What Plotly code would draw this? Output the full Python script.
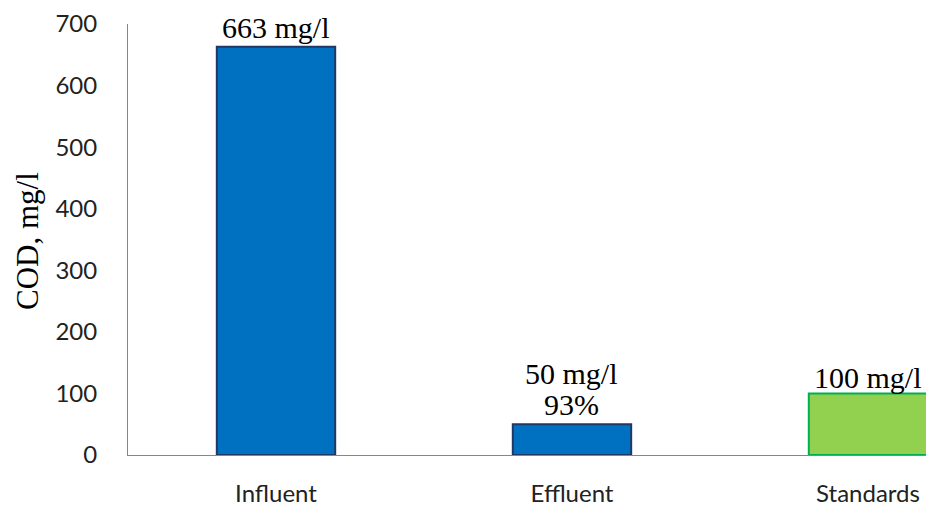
import plotly.graph_objects as go

# COD concentrations (mg/l)
categories = ["Influent", "Effluent", "Standards"]
cod_values = [663, 50, 100]
label_lines = [["663 mg/l"], ["50 mg/l", "93%"], ["100 mg/l"]]
y_ticks = [0, 100, 200, 300, 400, 500, 600, 700]

fill_colors = ["#0070C0", "#0070C0", "#92D050"]
line_colors = ["#1F3864", "#1F3864", "#00B050"]

fig = go.Figure()
fig.add_trace(go.Bar(
    x=categories,
    y=cod_values,
    width=0.4,
    marker=dict(color=fill_colors, line=dict(color=line_colors, width=2)),
    hoverinfo="skip",
    showlegend=False,
))

serif = "Liberation Serif, Times New Roman, serif"
sans = "Lato, Carlito, Calibri, sans-serif"
label_gap = [1, 1, -3]   # pixel offset of each label above its bar
line_step = 31           # pixel spacing between stacked label lines

for cat, val, lines, gap in zip(categories, cod_values, label_lines, label_gap):
    for i, line in enumerate(reversed(lines)):
        fig.add_annotation(
            x=cat, y=val, text=line, showarrow=False,
            xanchor="center", yanchor="bottom", yshift=gap + i * line_step,
            font=dict(family=serif, size=30, color="black"),
        )

# vertical axis title
fig.add_annotation(
    xref="paper", yref="paper", x=-0.125, y=0.497,
    text="COD, mg/l", textangle=-90, showarrow=False,
    xanchor="center", yanchor="middle",
    font=dict(family=serif, size=31, color="black"),
)

fig.update_layout(
    width=926, height=512,
    margin=dict(l=128, r=0, t=24, b=57),
    paper_bgcolor="white", plot_bgcolor="white",
    bargap=0.6,
)
fig.update_xaxes(
    type="category", range=[-0.5, 2.196],
    showline=True, linecolor="#868686", linewidth=1,
    showgrid=False, zeroline=False, ticks="",
    ticklabelstandoff=17, automargin=False,
    tickfont=dict(family=sans, size=24, color="#222222"),
)
fig.update_yaxes(
    range=[0, 700], tickvals=y_ticks,
    showline=True, linecolor="#868686", linewidth=1,
    showgrid=False, zeroline=False, ticks="",
    ticklabelstandoff=25, automargin=False,
    tickfont=dict(family=sans, size=24, color="#222222"),
)

fig.write_html("out.html")
